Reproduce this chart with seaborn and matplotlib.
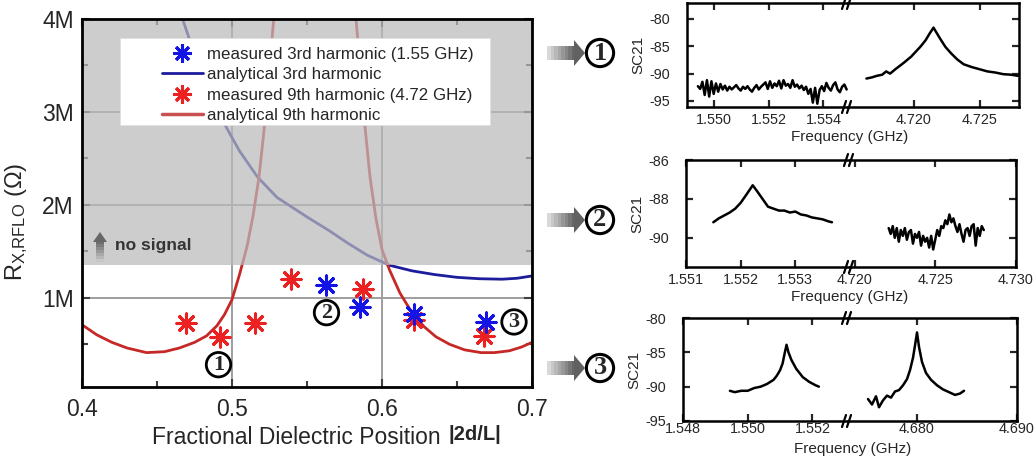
import numpy as np
import matplotlib.pyplot as plt
import seaborn as sns
from matplotlib.lines import Line2D
from matplotlib.patches import Rectangle, Polygon

W, H = 1034, 466

# ---- main panel: R (MOhm) vs fractional dielectric position ----
pos_ana3 = [0.466, 0.475, 0.485, 0.495, 0.505, 0.517, 0.530, 0.550, 0.565, 0.577,
            0.590, 0.605, 0.620, 0.635, 0.650, 0.665, 0.680, 0.690, 0.700]
res_ana3 = [4.05, 3.62, 3.22, 2.87, 2.58, 2.30, 2.08, 1.87, 1.72, 1.59,
            1.46, 1.35, 1.29, 1.25, 1.22, 1.205, 1.20, 1.21, 1.235]

pos_ana9_a = [0.400, 0.410, 0.420, 0.430, 0.443, 0.455, 0.465, 0.475, 0.483, 0.490,
              0.495, 0.500, 0.505, 0.510, 0.514, 0.518, 0.521, 0.524, 0.527, 0.530]
res_ana9_a = [0.71, 0.60, 0.52, 0.46, 0.41, 0.42, 0.46, 0.52, 0.59, 0.70,
              0.82, 0.98, 1.25, 1.55, 1.88, 2.30, 2.75, 3.25, 3.85, 4.40]
pos_ana9_b = [0.580, 0.584, 0.588, 0.592, 0.596, 0.600, 0.605, 0.612, 0.620, 0.628,
              0.636, 0.645, 0.655, 0.666, 0.675, 0.685, 0.693, 0.700]
res_ana9_b = [4.50, 3.75, 2.95, 2.30, 1.85, 1.52, 1.30, 1.05, 0.84, 0.69,
              0.58, 0.50, 0.44, 0.41, 0.41, 0.43, 0.47, 0.52]

pos_meas3 = [0.563, 0.585, 0.621, 0.669]
res_meas3 = [1.14, 0.90, 0.83, 0.74]
pos_meas9 = [0.469, 0.492, 0.515, 0.539, 0.587, 0.621, 0.668]
res_meas9 = [0.73, 0.58, 0.73, 1.20, 1.09, 0.76, 0.59]

no_signal_level = 1.35
y_ticks = [1, 2, 3, 4]
y_ticklabels = ['1M', '2M', '3M', '4M']
x_ticks = [0.4, 0.5, 0.6, 0.7]
legend_labels = ['measured 3rd harmonic (1.55 GHz)', 'analytical 3rd harmonic',
                 'measured 9th harmonic (4.72 GHz)', 'analytical 9th harmonic']
point_marks = [('1', 0.491, 0.28), ('2', 0.563, 0.84), ('3', 0.688, 0.74)]

# ---- spectra (SC21, dB) ----
p1_left_s = [-92.3, -92.8, -91.5, -93.9, -91.2, -94.2, -91.4, -93.7, -91.8, -93.3,
             -91.9, -92.9, -92.2, -93.1, -92.4, -92.9, -92.5, -92.1, -92.7, -93.1,
             -92.4, -92.8, -92.3, -92.9, -93.3, -92.6, -92.1, -92.9, -92.4, -92.0,
             -91.6, -92.8, -91.4, -92.6, -91.8, -92.3, -91.3, -92.7, -91.2, -92.2,
             -91.9, -92.6, -91.2, -92.4, -92.0, -92.7, -92.2, -93.0, -92.4, -93.7,
             -92.8, -95.3, -92.6, -95.5, -93.0, -92.3, -93.2, -91.7, -92.6, -93.1,
             -92.1, -91.6, -92.9, -93.4, -92.4, -92.0, -92.9]
p1_left_rng = (1.5494, 1.55485)
p1_right_f = [4.7164, 4.7168, 4.7172, 4.7176, 4.7179, 4.7182, 4.7186, 4.7192, 4.7198,
              4.7205, 4.7209, 4.7212, 4.7215, 4.7218, 4.7220, 4.7224, 4.7228, 4.7233,
              4.7238, 4.7244, 4.7250, 4.7256, 4.7262, 4.7268, 4.7274, 4.7279]
p1_right_s = [-90.9, -90.7, -90.4, -90.2, -89.6, -90.0, -89.2, -88.1, -86.9,
              -85.1, -83.9, -82.7, -81.6, -82.8, -83.6, -85.1, -86.2, -87.4,
              -88.3, -88.8, -89.2, -89.6, -89.8, -90.1, -90.2, -90.4]

p2_left_f = [1.5515, 1.5516, 1.5517, 1.5518, 1.5519, 1.5520, 1.5521, 1.55222, 1.5523,
             1.5524, 1.5525, 1.5526, 1.5527, 1.5528, 1.5529, 1.5530, 1.5531, 1.5532,
             1.5533, 1.5534, 1.5535, 1.5536, 1.55367]
p2_left_s = [-89.2, -89.0, -88.85, -88.7, -88.5, -88.2, -87.8, -87.3, -87.6,
             -88.0, -88.4, -88.5, -88.6, -88.6, -88.7, -88.65, -88.8, -88.85,
             -88.95, -89.0, -89.05, -89.15, -89.2]
p2_right_s = [-89.5, -89.8, -89.4, -90.0, -89.5, -90.2, -89.6, -89.9, -89.5, -90.1,
              -89.7, -89.6, -90.3, -89.8, -90.0, -89.7, -90.4, -89.9, -90.2, -90.0,
              -90.5, -89.9, -90.6, -90.1, -89.6, -89.9, -89.4, -89.5, -89.1, -89.3,
              -88.8, -89.2, -89.0, -89.4, -89.7, -89.3, -89.8, -90.2, -89.6, -89.5,
              -89.9, -89.4, -89.3, -90.4, -89.5, -89.9, -89.4, -89.6]
p2_right_rng = (4.7221, 4.7280)

p3_left_f = [1.54945, 1.5496, 1.5498, 1.5500, 1.5502, 1.5504, 1.5506, 1.5508, 1.5509,
             1.5510, 1.55108, 1.55114, 1.5512, 1.55126, 1.55135, 1.5515, 1.5517,
             1.5519, 1.5521, 1.5522]
p3_left_s = [-90.6, -90.8, -90.6, -90.6, -90.2, -90.0, -89.6, -89.0, -88.4,
             -87.6, -86.6, -85.2, -83.9, -85.0, -86.1, -87.4, -88.6,
             -89.3, -89.8, -90.0]
p3_right_f = [4.6751, 4.6755, 4.6759, 4.6762, 4.6766, 4.6770, 4.6774, 4.6778, 4.6782,
              4.6786, 4.6790, 4.6793, 4.6796, 4.6798, 4.6800, 4.6802, 4.6805, 4.6809,
              4.6814, 4.6820, 4.6826, 4.6832, 4.6838, 4.6843, 4.6847]
p3_right_s = [-91.8, -92.6, -91.4, -93.0, -92.0, -91.3, -91.6, -90.7, -90.5,
              -89.8, -88.9, -87.6, -85.8, -84.0, -82.1, -84.2, -86.4, -88.0,
              -89.0, -89.8, -90.4, -90.8, -91.2, -91.0, -90.6]

BLUE_PT, RED_PT = '#1414e6', '#ec2222'
BLUE_LN, RED_LN = '#1c1c9c', '#c62828'

sns.set_style('ticks')
plt.rcParams['font.family'] = ['Liberation Sans', 'DejaVu Sans']
plt.rcParams['mathtext.default'] = 'regular'


def fx(px):
    return px / W


def fy(py):
    return 1 - py / H


fig = plt.figure(figsize=(W / 100, H / 100), dpi=100)

# ---------------- main plot ----------------
ax = fig.add_axes([fx(82), fy(387), fx(532 - 82), fy(19) - fy(387)])
ax.set_axisbelow(True)
ax.grid(True, which='major', color='0.62', lw=1.4)

sns.lineplot(x=pos_ana3, y=res_ana3, color=BLUE_LN, lw=2, estimator=None, ax=ax, zorder=2)
sns.lineplot(x=pos_ana9_a, y=res_ana9_a, color=RED_LN, lw=2, estimator=None, ax=ax, zorder=2)
sns.lineplot(x=pos_ana9_b, y=res_ana9_b, color=RED_LN, lw=2, estimator=None, ax=ax, zorder=2)

ax.axhspan(no_signal_level, 4.2, color='#bababa', alpha=0.72, lw=0, zorder=2.5)

sns.scatterplot(x=pos_meas9, y=res_meas9, marker=(8, 2, 0), s=190, color=RED_PT,
                linewidth=2.2, ax=ax, zorder=4)
sns.scatterplot(x=pos_meas3, y=res_meas3, marker=(8, 2, 0), s=190, color=BLUE_PT,
                linewidth=2.2, ax=ax, zorder=4)

ax.set_xlim(0.4, 0.7)
ax.set_ylim(0.04, 4.0)
ax.set_xticks(x_ticks)
ax.set_xticklabels([f'{v:.1f}' for v in x_ticks])
ax.set_yticks(y_ticks)
ax.set_yticklabels(y_ticklabels)
ax.set_xticks([0.45, 0.55, 0.65], minor=True)
ax.set_yticks([0.5, 1.5, 2.5, 3.5], minor=True)
ax.tick_params(which='both', direction='in', top=True, right=True, width=1.5,
               labelsize=16.5, color='0.25')
ax.tick_params(which='major', length=6)
ax.tick_params(which='minor', length=4)
ax.tick_params(axis='x', pad=8)
ax.tick_params(axis='y', pad=6)
for s in ax.spines.values():
    s.set_linewidth(2)
    s.set_color('black')
ax.set_xlabel('')
ax.set_ylabel('R$_{X{,}RFLO}$ (Ω)', fontsize=17)
ax.yaxis.set_label_coords(-0.116, 0.45)

# legend on a white box
ax.add_patch(Rectangle((0.084, 0.712), 0.823, 0.236, transform=ax.transAxes,
                       facecolor='white', edgecolor='0.88', lw=0.6, zorder=5))
handles = [
    Line2D([], [], ls='none', marker=(8, 2, 0), ms=13, mew=2.2, color=BLUE_PT),
    Line2D([], [], color=BLUE_LN, lw=2),
    Line2D([], [], ls='none', marker=(8, 2, 0), ms=13, mew=2.2, color=RED_PT),
    Line2D([], [], color='#c85050', lw=2.5),
]
leg = ax.legend(handles, legend_labels, loc='upper left', bbox_to_anchor=(0.178, 0.923),
                frameon=False, fontsize=12.2, handlelength=2.4, handletextpad=0.25,
                labelspacing=0.3, borderpad=0, borderaxespad=0)
leg.set_zorder(6)

# circled position marks
for num, xp, yp in point_marks:
    ax.text(xp, yp, num, fontsize=16, fontfamily='Liberation Serif', fontweight='bold',
            ha='center', va='center', zorder=6,
            bbox=dict(boxstyle='circle,pad=0.1', fc='none', ec='black', lw=2))

ax.text(0.422, 1.56, 'no signal', fontsize=12.5, fontweight='bold', color='#353535',
        va='center', zorder=6)

# up arrow next to "no signal"
n = 7
for i in range(n):
    yb = 262 - i * 3
    c = str(0.78 - 0.35 * i / (n - 1))
    fig.patches.append(Rectangle((fx(96), fy(yb)), fx(8), fy(yb - 3.5) - fy(yb),
                                 transform=fig.transFigure, color=c, lw=0, zorder=3))
fig.patches.append(Polygon([[fx(93), fy(242)], [fx(100), fy(232)], [fx(107), fy(242)]],
                           closed=True, transform=fig.transFigure, color='0.4', lw=0, zorder=3))

# x label
fig.text(fx(152), fy(437), 'Fractional Dielectric Position', fontsize=16.5,
         va='center', ha='left')
fig.text(fx(449), fy(435), '|2d/L|', fontsize=14.5, fontweight='bold', va='center', ha='left')


# ---------------- spectra panels ----------------
def broken_axes(x0, xm, x1, ytop, ybot, xpad=4):
    axl = fig.add_axes([fx(x0), fy(ybot), fx(xm - x0), fy(ytop) - fy(ybot)])
    axr = fig.add_axes([fx(xm), fy(ybot), fx(x1 - xm), fy(ytop) - fy(ybot)])
    for a in (axl, axr):
        for s in a.spines.values():
            s.set_linewidth(1.8)
            s.set_color('black')
        a.tick_params(which='both', direction='in', length=5, width=1.6, labelsize=10.4,
                      top=True)
        a.tick_params(axis='x', pad=xpad)
        a.tick_params(axis='y', pad=12)
    axl.spines['right'].set_visible(False)
    axr.spines['left'].set_visible(False)
    axl.tick_params(right=False)
    axr.tick_params(left=False, right=True, labelleft=False)
    # break marks
    for yy in (ytop, ybot):
        for dx in (-4, 1):
            fig.add_artist(Line2D([fx(xm + dx - 2), fx(xm + dx + 2)],
                                  [fy(yy + 6), fy(yy - 6)], color='black', lw=1.6,
                                  transform=fig.transFigure))
    return axl, axr


def side_arrow(yc):
    n = 8
    for i in range(n):
        c = str(0.85 - 0.45 * i / (n - 1))
        fig.patches.append(Rectangle((fx(547 + i * 3.5), fy(yc + 7)), fx(4), fy(yc - 7) - fy(yc + 7),
                                     transform=fig.transFigure, color=c, lw=0))
    fig.patches.append(Polygon([[fx(574), fy(yc - 13)], [fx(585), fy(yc)], [fx(574), fy(yc + 13)]],
                               closed=True, transform=fig.transFigure, color='0.38', lw=0))


def panel_mark(num, yc):
    side_arrow(yc)
    fig.text(fx(600), fy(yc), num, fontsize=19, fontfamily='Liberation Serif',
             fontweight='bold', ha='center', va='center',
             bbox=dict(boxstyle='circle,pad=0.08', fc='none', ec='black', lw=2.2))


# panel 1
a1l, a1r = broken_axes(687, 848, 1019, 3, 107)
f1 = np.linspace(p1_left_rng[0], p1_left_rng[1], len(p1_left_s))
sns.lineplot(x=f1, y=p1_left_s, color='black', lw=1.8, estimator=None, ax=a1l)
sns.lineplot(x=p1_right_f, y=p1_right_s, color='black', lw=1.8, estimator=None, ax=a1r)
for a in (a1l, a1r):
    a.set_ylim(-96.1, -77.1)
    a.set_yticks([-95, -90, -85, -80])
    a.set_xlabel('')
    a.set_ylabel('')
a1l.set_yticklabels(['-95', '-90', '-85', '-80'])
a1l.set_xlim(1.549, 1.5549)
a1l.set_xticks([1.550, 1.552, 1.554])
a1l.set_xticklabels(['1.550', '1.552', '1.554'])
a1r.set_xlim(4.715, 4.728)
a1r.set_xticks([4.720, 4.725])
a1r.set_xticklabels(['4.720', '4.725'])
a1l.set_ylabel('SC21', fontsize=11, labelpad=3)
fig.text(fx(850), fy(137), 'Frequency (GHz)', fontsize=11, ha='center', va='center')
panel_mark('1', 53)

# panel 2
a2l, a2r = broken_axes(686, 850, 1016, 160, 267)
f2 = np.linspace(p2_right_rng[0], p2_right_rng[1], len(p2_right_s))
sns.lineplot(x=p2_left_f, y=p2_left_s, color='black', lw=1.8, estimator=None, ax=a2l)
sns.lineplot(x=f2, y=p2_right_s, color='black', lw=1.8, estimator=None, ax=a2r)
for a in (a2l, a2r):
    a.set_ylim(-91.5, -86.0)
    a.set_yticks([-90, -88, -86])
    a.set_xlabel('')
    a.set_ylabel('')
a2l.set_yticklabels(['-90', '-88', '-86'])
a2l.set_xlim(1.551, 1.554)
a2l.set_xticks([1.551, 1.552, 1.553])
a2l.set_xticklabels(['1.551', '1.552', '1.553'])
a2r.set_xlim(4.7197, 4.730)
a2r.set_xticks([4.720, 4.725, 4.730])
a2r.set_xticklabels(['4.720', '4.725', '4.730'])
a2l.set_ylabel('SC21', fontsize=11, labelpad=3)
fig.text(fx(850), fy(297), 'Frequency (GHz)', fontsize=11, ha='center', va='center')
panel_mark('2', 220)

# panel 3
a3l, a3r = broken_axes(683, 848, 1017, 318, 421, xpad=1)
sns.lineplot(x=p3_left_f, y=p3_left_s, color='black', lw=1.8, estimator=None, ax=a3l)
sns.lineplot(x=p3_right_f, y=p3_right_s, color='black', lw=1.8, estimator=None, ax=a3r)
for a in (a3l, a3r):
    a.set_ylim(-95, -80)
    a.set_yticks([-95, -90, -85, -80])
    a.set_xlabel('')
    a.set_ylabel('')
a3l.set_yticklabels(['-95', '-90', '-85', '-80'])
a3l.set_xlim(1.548, 1.5531)
a3l.set_xticks([1.548, 1.550, 1.552])
a3l.set_xticklabels(['1.548', '1.550', '1.552'])
a3r.set_xlim(4.6731, 4.690)
a3r.set_xticks([4.680, 4.690])
a3r.set_xticklabels(['4.680', '4.690'])
a3l.set_ylabel('SC21', fontsize=11, labelpad=3)
fig.text(fx(853), fy(449), 'Frequency (GHz)', fontsize=11, ha='center', va='center')
panel_mark('3', 368)

fig.savefig('out.png', dpi=100)
